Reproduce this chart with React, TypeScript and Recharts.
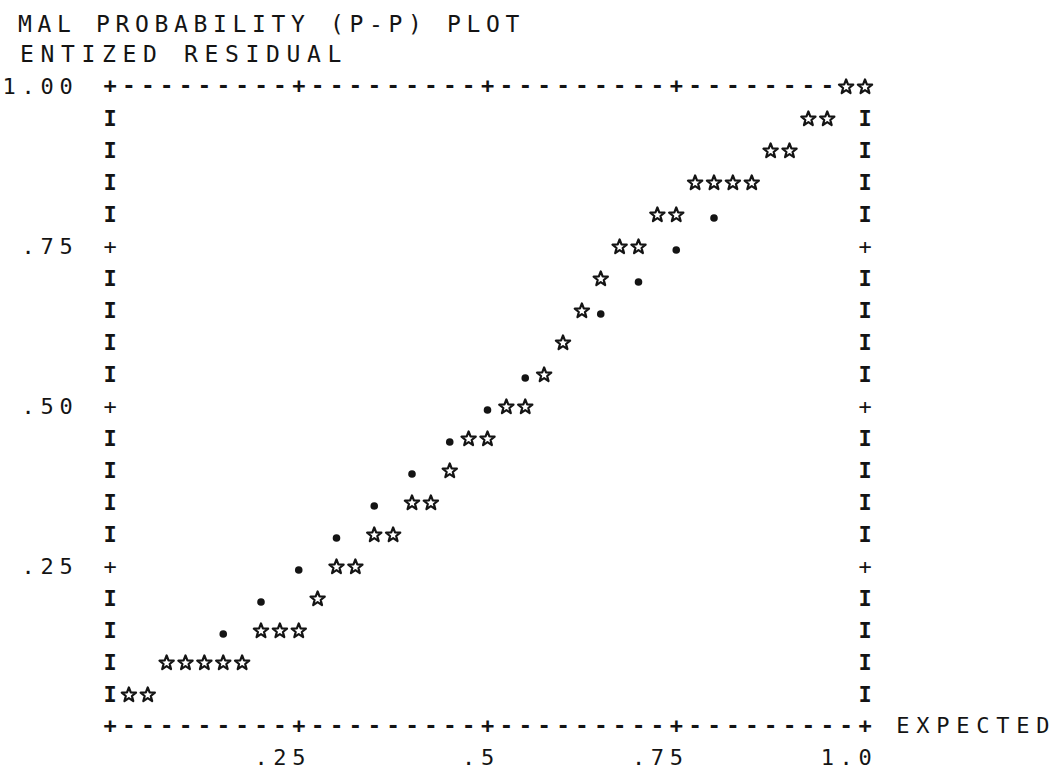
import { Scatter, ScatterChart, XAxis, YAxis } from "recharts";

// normal P-P plot of the studentized residual.
// every star sits in one print cell: expected probability on x, observed on y
const expected = [
  0.025, 0.05, 0.075, 0.1, 0.125, 0.15, 0.175, 0.2, 0.225, 0.25,
  0.275, 0.3, 0.325, 0.35, 0.375, 0.4, 0.425, 0.45, 0.475, 0.5,
  0.525, 0.55, 0.575, 0.6, 0.625, 0.65, 0.675, 0.7, 0.725, 0.75,
  0.775, 0.8, 0.825, 0.85, 0.875, 0.9, 0.925, 0.95, 0.975, 1.0
];
const observed = [
  0.05, 0.05, 0.1, 0.1, 0.1, 0.1, 0.1, 0.15, 0.15, 0.15,
  0.2, 0.25, 0.25, 0.3, 0.3, 0.35, 0.35, 0.4, 0.45, 0.45,
  0.5, 0.5, 0.55, 0.6, 0.65, 0.7, 0.75, 0.75, 0.8, 0.8,
  0.85, 0.85, 0.85, 0.85, 0.9, 0.9, 0.95, 0.95, 1.0, 1.0
];

// cells of the y = x reference line that no star covers (printed as ".")
const diagonal = [0.15, 0.2, 0.25, 0.3, 0.35, 0.4, 0.45, 0.5, 0.55, 0.65, 0.7, 0.75, 0.8];

const xTickValues = [0.25, 0.5, 0.75, 1.0];
const xTickLabels = [".25", ".5", ".75", "1.0"];
const yTickValues = [0.25, 0.5, 0.75, 1.0];
const yTickLabels = [".25", ".50", ".75", "1.00"];

const titleLines = ["MAL PROBABILITY (P-P) PLOT", "ENTIZED RESIDUAL"];
const xTitle = "EXPECTED";

// page grid of the printer
const W = 1061;
const H = 771;
const LEFT = 110;
const RIGHT = 865;
const TOP = 85;
const BOTTOM = 725;
const COLS = 40;
const ROWS = 20;
const PITCH = (RIGHT - LEFT) / COLS;
const LINE = (BOTTOM - TOP) / ROWS;

const colTicks = Array.from({ length: COLS + 1 }, (_, i) => i / COLS);
const rowTicks = Array.from({ length: ROWS + 1 }, (_, i) => i / ROWS);

const points = expected.map((x, i) => ({ x, y: observed[i] }));
const refPoints = diagonal.map((v) => ({ x: v, y: v }));
const taken = new Set(points.map((p) => `${Math.round(p.x * COLS)},${Math.round(p.y * ROWS)}`));

const ink = "#141414";
const mono = "'DejaVu Sans Mono', 'Liberation Mono', monospace";
const charStyle = { fontFamily: mono, fontSize: 22, fill: ink };

// x positions for a string printed on the grid, one per character
const gridFromEnd = (s: string, lastX: number, pitch = PITCH) =>
  s.split("").map((_, k) => (lastX - (s.length - 1 - k) * pitch).toFixed(1)).join(" ");
const gridFromStart = (s: string, firstX: number, pitch = PITCH) =>
  s.split("").map((_, k) => (firstX + k * pitch).toFixed(1)).join(" ");

function Glyph({ x, y, text, dy = 0, bold = false }: { x: number | string; y: number; text: string; dy?: number; bold?: boolean }) {
  return (
    <text x={x} y={y + dy} textAnchor="middle" dominantBaseline="central" style={{ ...charStyle, fontWeight: bold ? 700 : 400 }}>
      {text}
    </text>
  );
}

function BottomTick(props: any) {
  const { x, y, payload } = props;
  const col = Math.round(payload.value * COLS);
  const li = xTickValues.findIndex((v) => Math.round(v * COLS) === col);
  return (
    <g>
      <Glyph x={x} y={y} text={col % 10 === 0 ? "+" : "-"} bold />
      {li >= 0 && <Glyph x={gridFromEnd(xTickLabels[li], x)} y={y + LINE} text={xTickLabels[li]} />}
      {col === COLS && <Glyph x={gridFromStart(xTitle, x + 2 * PITCH, 20)} y={y} text={xTitle} />}
    </g>
  );
}

function TopTick(props: any) {
  const { x, y, payload } = props;
  const col = Math.round(payload.value * COLS);
  if (taken.has(`${col},${ROWS}`)) return <g />;
  return <Glyph x={x} y={y} text={col % 10 === 0 ? "+" : "-"} bold />;
}

function SideTick(props: any) {
  const { x, y, payload, labels } = props;
  const row = Math.round(payload.value * ROWS);
  const li = yTickValues.findIndex((v) => Math.round(v * ROWS) === row);
  const edge = row === 0 || row === ROWS;
  return (
    <g>
      {!edge && <Glyph x={x} y={y} text={row % 5 === 0 ? "+" : "I"} dy={1} bold={row % 5 !== 0} />}
      {labels && li >= 0 && <Glyph x={gridFromEnd(yTickLabels[li], x - 44, 19)} y={y} text={yTickLabels[li]} dy={1} />}
    </g>
  );
}

function starPath(cx: number, cy: number, R: number, r: number) {
  let d = "";
  for (let k = 0; k < 10; k++) {
    const a = ((-90 + k * 36) * Math.PI) / 180;
    const rad = k % 2 === 0 ? R : r;
    d += `${k === 0 ? "M" : "L"}${(cx + rad * Math.cos(a)).toFixed(2)},${(cy + rad * Math.sin(a)).toFixed(2)}`;
  }
  return d + "Z";
}

const StarMark = (p: any) => (
  <path d={starPath(p.cx, p.cy + 2, 7.5, 3.2)} fill="none" stroke={ink} strokeWidth={2.2} strokeLinejoin="round" />
);
const DotMark = (p: any) => <circle cx={p.cx} cy={p.cy + 5} r={3.8} fill={ink} />;

export default function App() {
  return (
    <div style={{ position: "absolute", left: 0, top: 0, width: W, height: H, overflow: "hidden", background: "#fff" }}>
      <svg width={W} height={H} style={{ position: "absolute", left: 0, top: 0 }}>
        <text x={gridFromStart(titleLines[0], 25, 19.5)} y={24} textAnchor="middle" dominantBaseline="central"
          style={{ fontFamily: mono, fontSize: 23, fill: ink }}>
          {titleLines[0]}
        </text>
        <text x={gridFromStart(titleLines[1], 27, 20.5)} y={54} textAnchor="middle" dominantBaseline="central"
          style={{ fontFamily: mono, fontSize: 23, fill: ink }}>
          {titleLines[1]}
        </text>
      </svg>
      <div style={{ position: "absolute", left: 0, top: 0 }}>
        <ScatterChart width={W} height={H} margin={{ top: TOP - 1, right: W - RIGHT - 1, bottom: H - BOTTOM - 1, left: LEFT - 1 }}>
          <XAxis xAxisId="bottom" type="number" dataKey="x" domain={[0, 1]} ticks={colTicks} interval={0}
            height={1} tickSize={0} tickMargin={0} axisLine={false} tickLine={false} tick={(p: any) => <BottomTick {...p} />} />
          <XAxis xAxisId="top" orientation="top" type="number" dataKey="x" domain={[0, 1]} ticks={colTicks} interval={0}
            height={1} tickSize={0} tickMargin={0} axisLine={false} tickLine={false} tick={(p: any) => <TopTick {...p} />} />
          <YAxis yAxisId="left" type="number" dataKey="y" domain={[0, 1]} ticks={rowTicks} interval={0}
            width={1} tickSize={0} tickMargin={0} axisLine={false} tickLine={false} tick={(p: any) => <SideTick {...p} labels />} />
          <YAxis yAxisId="right" orientation="right" type="number" dataKey="y" domain={[0, 1]} ticks={rowTicks} interval={0}
            width={1} tickSize={0} tickMargin={0} axisLine={false} tickLine={false} tick={(p: any) => <SideTick {...p} />} />
          <Scatter data={points} xAxisId="bottom" yAxisId="left" shape={StarMark} isAnimationActive={false} />
          <Scatter data={refPoints} xAxisId="top" yAxisId="right" shape={DotMark} isAnimationActive={false} />
        </ScatterChart>
      </div>
    </div>
  );
}
